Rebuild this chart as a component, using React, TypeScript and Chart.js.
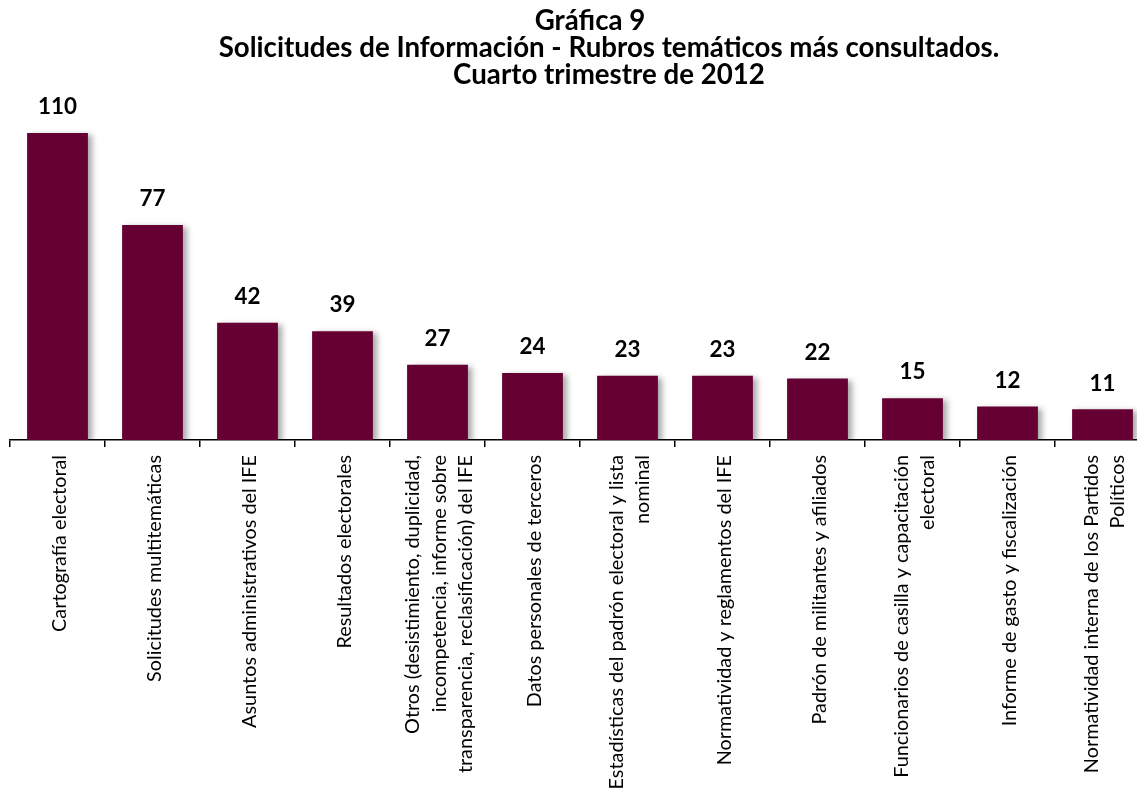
import React, { useEffect, useRef } from "react";
import { Chart, registerables } from "chart.js";

Chart.register(...registerables);

const titleLines = [
  "Gráfica 9",
  "Solicitudes de Información - Rubros temáticos más consultados.",
  "Cuarto trimestre de 2012",
];

const categoryLines: string[][] = [
  ["Cartografía electoral"],
  ["Solicitudes multitemáticas"],
  ["Asuntos administrativos del IFE"],
  ["Resultados electorales"],
  ["Otros (desistimiento, duplicidad,", "incompetencia, informe sobre", "transparencia, reclasificación) del IFE"],
  ["Datos personales de terceros"],
  ["Estadísticas del padrón electoral y lista", "nominal"],
  ["Normatividad y reglamentos del IFE"],
  ["Padrón de militantes y afiliados"],
  ["Funcionarios de casilla y capacitación", "electoral"],
  ["Informe de gasto y fiscalización"],
  ["Normatividad interna de los Partidos", "Políticos"],
];

const values = [110, 77, 42, 39, 27, 24, 23, 23, 22, 15, 12, 11];

const BAR_COLOR = "#660033";
const FONT = "Lato, 'Open Sans', sans-serif";

function fitSize(ctx: CanvasRenderingContext2D, text: string, weight: string, target: number) {
  ctx.font = `${weight} 100px ${FONT}`;
  const w = ctx.measureText(text).width;
  return (100 * target) / w;
}

const shadowPlugin = {
  id: "barShadow",
  beforeDatasetsDraw(chart: any) {
    const ctx = chart.ctx;
    ctx.save();
    ctx.shadowColor = "rgba(0,0,0,0.35)";
    ctx.shadowBlur = 6;
    ctx.shadowOffsetX = 4;
    ctx.shadowOffsetY = 2;
  },
  afterDatasetsDraw(chart: any) {
    chart.ctx.restore();
  },
};

const textPlugin = {
  id: "texts",
  afterDraw(chart: any) {
    const ctx: CanvasRenderingContext2D = chart.ctx;
    ctx.save();
    ctx.fillStyle = "#000";

    // Title
    const tSize = fitSize(ctx, titleLines[1], "bold", 781);
    ctx.font = `bold ${tSize}px ${FONT}`;
    ctx.textAlign = "center";
    ctx.textBaseline = "middle";
    const titleY = [21, 48, 75];
    const titleX = [590, 609, 609];
    titleLines.forEach((t, i) => ctx.fillText(t, titleX[i], titleY[i]));

    // Value labels
    const vSize = fitSize(ctx, "110", "bold", 39);
    ctx.font = `bold ${vSize}px ${FONT}`;
    const meta = chart.getDatasetMeta(0);
    meta.data.forEach((bar: any, i: number) => {
      ctx.fillText(String(values[i]), bar.x, bar.y - 26);
    });

    // Category labels (rotated)
    const lSize = fitSize(ctx, categoryLines[0][0], "normal", 177);
    ctx.font = `normal ${lSize}px ${FONT}`;
    ctx.textAlign = "right";
    ctx.textBaseline = "middle";
    const xScale = chart.scales.x;
    const yTop = chart.chartArea.bottom + 15;
    const spacing = 26.5;
    categoryLines.forEach((lines, i) => {
      const cx = xScale.getPixelForValue(i) + 2;
      lines.forEach((line, j) => {
        const x = cx + (j - (lines.length - 1) / 2) * spacing;
        ctx.save();
        ctx.translate(x, yTop);
        ctx.rotate(-Math.PI / 2);
        ctx.fillText(line, 0, 0);
        ctx.restore();
      });
    });
    ctx.restore();
  },
};

export default function App() {
  const ref = useRef<HTMLCanvasElement>(null);
  useEffect(() => {
    if (!ref.current) return;
    const chart = new Chart(ref.current, {
      type: "bar",
      data: {
        labels: categoryLines.map((l) => l.join(" ")),
        datasets: [
          {
            data: values,
            backgroundColor: BAR_COLOR,
            borderWidth: 0,
            categoryPercentage: 1,
            barPercentage: 0.64,
          },
        ],
      },
      options: {
        responsive: false,
        animation: false,
        layout: { padding: { left: 10, right: 10, top: 105, bottom: 342 } },
        plugins: { legend: { display: false }, title: { display: false }, tooltip: { enabled: false } },
        scales: {
          y: { display: false, min: 0, max: 120 },
          x: {
            border: { display: true, color: "#000", width: 1.5 },
            grid: {
              display: true,
              drawOnChartArea: false,
              drawTicks: true,
              tickLength: 7,
              color: "#000",
              lineWidth: 1.5,
              offset: true,
            },
            ticks: { display: false },
          },
        },
      },
      plugins: [shadowPlugin, textPlugin],
    });
    return () => chart.destroy();
  }, []);
  return (
    <div style={{ position: "fixed", left: 0, top: 0, width: 1137, height: 789, overflow: "hidden", background: "#fff" }}>
      <canvas ref={ref} width={1160} height={789} style={{ display: "block" }} />
    </div>
  );
}
